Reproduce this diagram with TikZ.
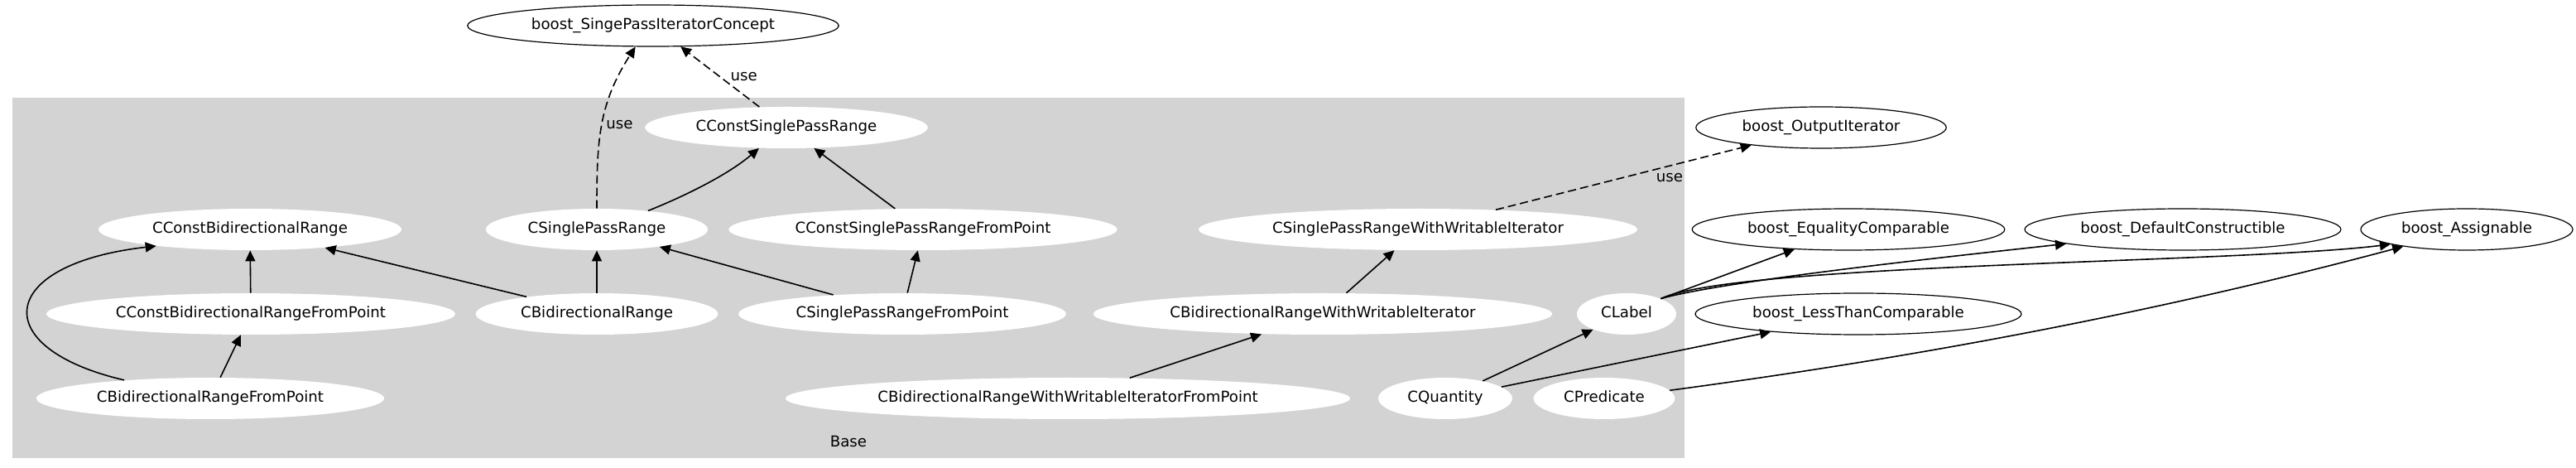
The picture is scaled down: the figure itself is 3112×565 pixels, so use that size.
\documentclass[tikz,border=0pt]{standalone}
\usepackage{fontspec}
\setmainfont{DejaVu Sans}
\usepackage{tikz}
\usetikzlibrary{arrows.meta,shapes}
\definecolor{clustergray}{RGB}{211,211,211}

\begin{document}
\begin{tikzpicture}[x=0.5pt, y=-0.5pt,
        font=\fontsize{9.1}{11}\selectfont,
        cls/.style={ellipse, fill=white, inner xsep=5.75pt, inner ysep=0pt,
            minimum height=25pt, text height=6.8pt, text depth=1.9pt},
        ext/.style={cls, draw=black, line width=0.6pt},
        dep/.style={-{Triangle[length=6.5pt,width=6pt]}, line width=0.8pt},
        usedep/.style={dep, dash pattern=on 5pt off 2.5pt},
        lbl/.style={inner sep=2pt}]
        \useasboundingbox (0,0) rectangle (3112,565);
        % Base cluster
        \fill[clustergray] (15,118) rectangle (2035,553);
        \node[lbl] (base) at (1025,533) {Base};
        % classes in Base
        \node[cls] (ccspr) at (950,154) {CConstSinglePassRange};
        \node[cls] (ccbr) at (302,277) {CConstBidirectionalRange};
        \node[cls] (cspr) at (721,277) {CSinglePassRange};
        \node[cls] (ccsprfp) at (1115,277) {CConstSinglePassRangeFromPoint};
        \node[cls] (csprwwi) at (1713,277) {CSinglePassRangeWithWritableIterator};
        \node[cls] (ccbrfp) at (303,379) {CConstBidirectionalRangeFromPoint};
        \node[cls] (cbr) at (721,379) {CBidirectionalRange};
        \node[cls] (csprfp) at (1090,379) {CSinglePassRangeFromPoint};
        \node[cls] (cbrwwi) at (1598,379) {CBidirectionalRangeWithWritableIterator};
        \node[cls] (clabel) at (1965,379) {CLabel};
        \node[cls] (cbrfp) at (254,481) {CBidirectionalRangeFromPoint};
        \node[cls] (cbrwwifp) at (1290,481) {CBidirectionalRangeWithWritableIteratorFromPoint};
        \node[cls] (cquantity) at (1746,481) {CQuantity};
        \node[cls] (cpredicate) at (1938,481) {CPredicate};
        % boost concepts
        \node[ext] (bspic) at (789,31) {boost\_SingePassIteratorConcept};
        \node[ext] (boi) at (2200,154) {boost\_OutputIterator};
        \node[ext] (beqc) at (2233,277) {boost\_EqualityComparable};
        \node[ext] (bdc) at (2637,277) {boost\_DefaultConstructible};
        \node[ext] (bassign) at (2980,277) {boost\_Assignable};
        \node[ext] (bltc) at (2245,379) {boost\_LessThanComparable};
        % inheritance
        \foreach \a/\b in {ccbrfp/ccbr, cbrfp/ccbrfp, cbr/ccbr, cbr/cspr, csprfp/cspr,
                csprfp/ccsprfp, ccsprfp/ccspr, cbrwwifp/cbrwwi, cbrwwi/csprwwi,
                cquantity/clabel, cquantity/bltc}
            \draw[dep] (\a) -- (\b);
        \draw[dep] (cbrfp.168) .. controls +(-167,-39) and +(-193,22) .. (ccbr.190);
        \draw[dep] (cspr.20) .. controls +(50,-20) and +(-35,30) .. (ccspr.217);
        \draw[dep] (clabel.24) -- (beqc);
        \draw[dep] (clabel.24) .. controls +(74,-21) and +(-147,16) .. (bdc.187);
        \draw[dep] (clabel.24) .. controls +(94,-43) and +(-187,23) .. (bassign.191);
        \draw[dep] (cpredicate.7) .. controls +(300,-40) and +(-300,80) .. (bassign.195);
        % use relations
        \draw[usedep] (cspr.north) .. controls +(0,-80) and +(-45,70) .. (bspic.230)
            node[lbl, pos=0.5, right] {use};
        \draw[usedep] (ccspr) -- node[lbl, right=4pt] {use} (bspic);
        \draw[usedep] (csprwwi) -- node[lbl, pos=0.68, below=2pt] {use} (boi);
\end{tikzpicture}
\end{document}
